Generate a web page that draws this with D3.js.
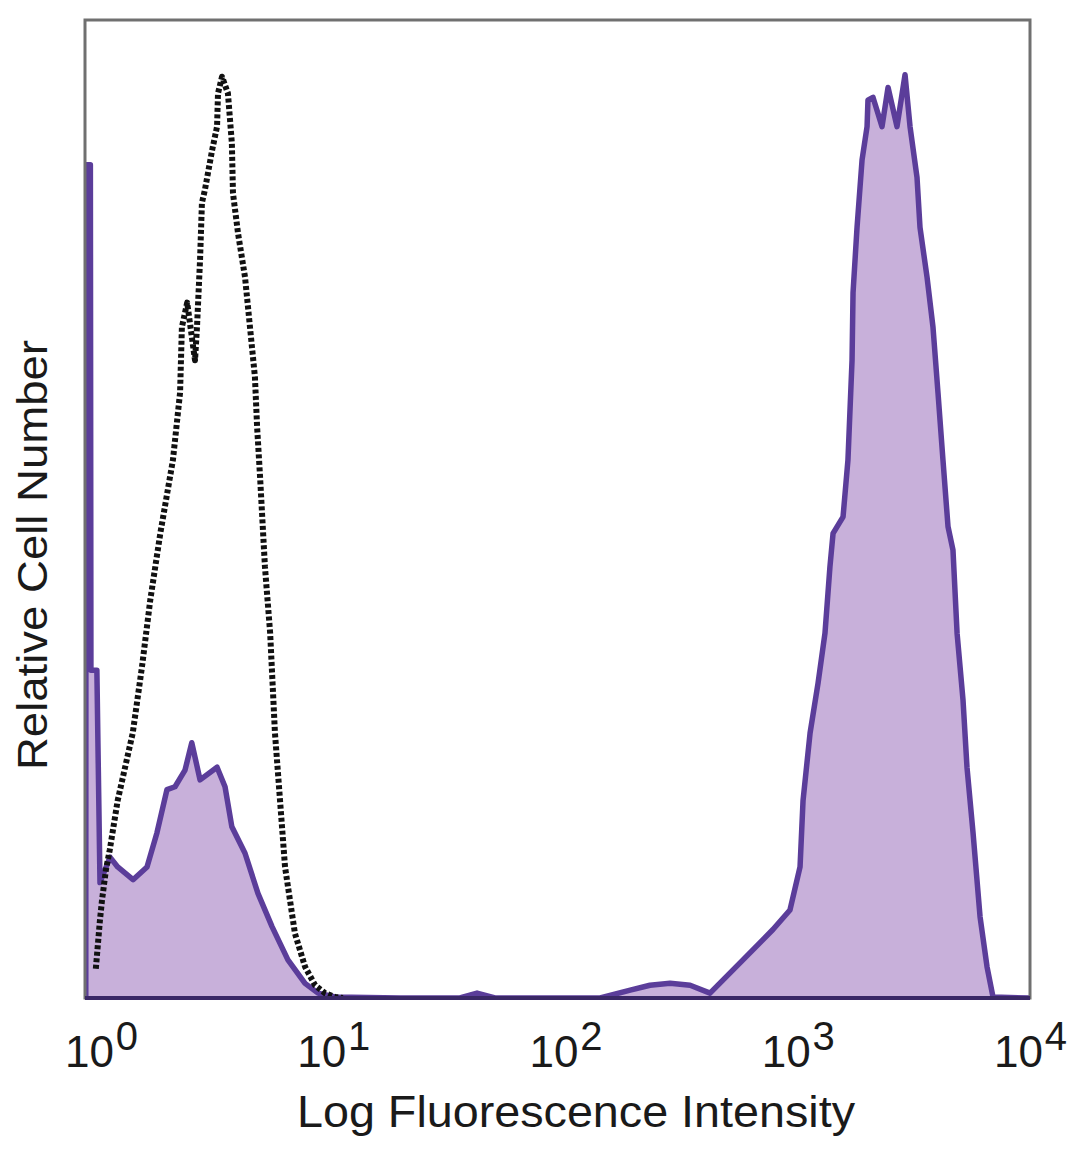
<!DOCTYPE html>
<html>
<head>
<meta charset="utf-8">
<script src="https://cdn.jsdelivr.net/npm/d3@7"></script>
<style>
  html, body { margin: 0; padding: 0; background: #fff; }
  svg { display: block; }
  text { font-family: "Liberation Sans", "DejaVu Sans", sans-serif; fill: #1a1a1a; }
</style>
</head>
<body>
<svg id="chart" width="1080" height="1169"></svg>
<script>
// ---- Data ----
// Isotype control (dashed black outline): fluorescence intensity vs relative count
const isoX = [0.95, 0.99, 1.01, 1.05, 1.09, 1.18, 1.37, 1.50, 1.63, 1.80, 2.04, 2.19, 2.23, 2.35, 2.54, 2.59, 2.67, 2.72, 2.80, 3.01, 3.16, 3.19, 3.32, 3.52, 3.66, 3.70, 3.89, 4.17, 4.38, 4.60, 4.70, 4.84, 5.08, 5.35, 5.61, 5.90, 6.20, 6.84, 7.56, 8.35, 9.21, 10.2, 11.0];
const isoY = [3.0, 8.0, 10.0, 13.1, 15.1, 20.2, 27.1, 33.8, 40.7, 47.5, 55.0, 61.9, 68.6, 71.1, 65.2, 68.6, 75.5, 81.3, 82.6, 86.7, 89.1, 92.5, 94.2, 92.5, 87.4, 82.3, 78.2, 73.7, 68.6, 63.5, 58.4, 53.3, 44.1, 37.3, 27.1, 20.2, 13.4, 6.6, 3.2, 1.3, 0.5, 0.1, 0];

// Stained sample (filled purple histogram)
const stainX = [0.86, 0.862, 0.90, 0.905, 0.96, 0.990, 1.093, 1.18, 1.374, 1.578, 1.742, 1.923, 2.083, 2.30, 2.46, 2.67, 3.16, 3.42, 3.66, 4.17, 4.74, 5.45, 6.38, 7.56, 8.60, 10.2, 19.4, 35.1, 41.6, 49.7, 141, 190, 231, 282, 344, 419, 581, 782, 926, 1023, 1054, 1130, 1223, 1310, 1376, 1419, 1567, 1645, 1713, 1730, 1800, 1892, 1988, 2006, 2108, 2306, 2448, 2675, 2897, 3044, 3262, 3360, 3603, 3822, 4016, 4220, 4436, 4660, 4853, 5146, 5354, 5685, 6095, 6530, 6930, 10000];
const stainY = [0, 85.2, 85.2, 33.5, 33.5, 11.8, 14.4, 13.4, 12.1, 13.4, 16.9, 21.3, 21.6, 23.3, 26.1, 22.3, 23.6, 21.6, 17.5, 14.8, 10.7, 7.3, 3.9, 1.5, 0.5, 0.1, 0, 0, 0.5, 0, 0, 0.8, 1.3, 1.5, 1.3, 0.5, 3.9, 7.0, 9.0, 13.4, 20.2, 27.1, 32.2, 37.3, 44.1, 47.5, 49.2, 55.0, 65.2, 72.1, 78.8, 85.7, 89.1, 91.8, 92.1, 89.1, 93.1, 89.1, 94.4, 89.1, 83.9, 78.8, 73.7, 68.6, 61.9, 55.0, 48.2, 45.8, 37.3, 30.5, 23.6, 16.9, 8.3, 3.2, 0.1, 0];

// Axis tick values and their exponent labels
const tickValues = [1, 10, 100, 1000, 10000];
const tickExponents = ["0", "1", "2", "3", "4"];

const xTitle = "Log Fluorescence Intensity";
const yTitle = "Relative Cell Number";

// ---- Layout ----
const svg = d3.select("#chart");
const frame = { left: 85, right: 1030, top: 20, bottom: 998 };

const x = d3.scaleLog().domain([1, 10000]).range([101, 1030]);
const y = d3.scaleLinear().domain([0, 100]).range([frame.bottom, frame.top]);

svg.append("defs").append("clipPath").attr("id", "plotClip")
  .append("rect")
  .attr("x", frame.left).attr("y", frame.top)
  .attr("width", frame.right - frame.left).attr("height", frame.bottom - frame.top);

const plot = svg.append("g").attr("clip-path", "url(#plotClip)");

const stain = stainX.map((v, i) => [v, stainY[i]]);
const iso = isoX.map((v, i) => [v, isoY[i]]);

const area = d3.area().x(d => x(d[0])).y0(y(0)).y1(d => y(d[1]));
const line = d3.line().x(d => x(d[0])).y(d => y(d[1]));

plot.append("path").datum(stain)
  .attr("d", area)
  .attr("fill", "#c8b0da");

plot.append("path").datum(stain)
  .attr("d", line)
  .attr("fill", "none")
  .attr("stroke", "#5b3d9a")
  .attr("stroke-width", 5.5)
  .attr("stroke-linejoin", "round");

plot.append("path").datum(iso)
  .attr("d", line)
  .attr("fill", "none")
  .attr("stroke", "#111")
  .attr("stroke-width", 6)
  .attr("stroke-dasharray", "4,2.5")
  .attr("stroke-linejoin", "round");

// Frame
svg.append("rect")
  .attr("x", frame.left).attr("y", frame.top)
  .attr("width", frame.right - frame.left).attr("height", frame.bottom - frame.top)
  .attr("fill", "none").attr("stroke", "#707070").attr("stroke-width", 3);

// Baseline (dark purple)
svg.append("line")
  .attr("x1", frame.left).attr("x2", frame.right)
  .attr("y1", frame.bottom).attr("y2", frame.bottom)
  .attr("stroke", "#3a2866").attr("stroke-width", 4);

// X axis ticks as powers of ten
const xAxis = d3.axisBottom(x).tickValues(tickValues).tickSize(0).tickPadding(0).tickFormat(() => "");
const gx = svg.append("g").attr("transform", `translate(0,${frame.bottom})`).call(xAxis);
gx.select(".domain").remove();
gx.selectAll(".tick text").remove();
gx.selectAll(".tick").each(function (d, i) {
  const t = d3.select(this).append("text")
    .attr("text-anchor", "middle")
    .attr("y", 69)
    .style("font-size", "44px")
    .style("fill", "#1a1a1a");
  t.append("tspan").text("10");
  t.append("tspan").attr("dy", -17).attr("dx", 2).style("font-size", "40px").text(tickExponents[i]);
});

// Axis titles
svg.append("text")
  .attr("x", 576).attr("y", 1127)
  .attr("text-anchor", "middle")
  .attr("textLength", 558).attr("lengthAdjust", "spacingAndGlyphs")
  .style("font-size", "44px")
  .text(xTitle);

svg.append("text")
  .attr("transform", "translate(47,555) rotate(-90)")
  .attr("text-anchor", "middle")
  .attr("textLength", 430).attr("lengthAdjust", "spacingAndGlyphs")
  .style("font-size", "42px")
  .text(yTitle);
</script>
</body>
</html>
